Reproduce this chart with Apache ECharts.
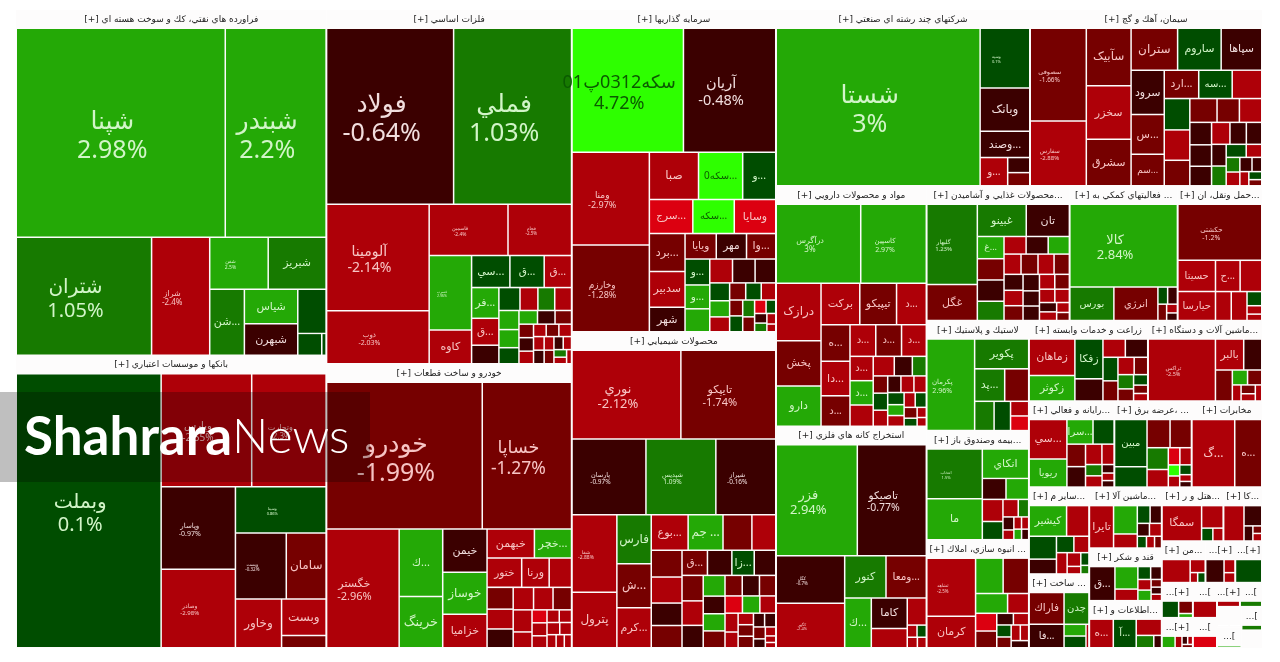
<!DOCTYPE html>
<html>
<head>
<meta charset="utf-8">
<style>html,body{margin:0;padding:0;background:#fff}#map{width:1280px;height:662px}</style>
<script src="https://cdn.jsdelivr.net/npm/echarts@6/dist/echarts.min.js"></script>
</head>
<body>
<div id="map"></div>
<script>
// Each stock row: symbol, daily change in percent, market weight.
const fuelStocks = [['شپنا',2.98,43056],['شبندر',2.2,20592],['شتران',1.05,15525],['شراز',-2.4,6555],['شفن',2.5,2830],['شبریز',1.5,2800],['شن...',1.4,2112],['شیاس',2.6,1683],['شبهرن',-0.7,1530],['',0.5,1118],['',0.5,440],['',0.5,60]];
const bankStocks = [['وبملت',0.1,39024],['وپارس',-2.55,9856],['وتجارت',-2.3,8064],['وپاسار',-0.97,5840],['وصادر',-2.98,5548],['وسینا',0.86,3960],['وپست',-0.32,3136],['سامان',-1.5,2432],['وخاور',-2.5,2070],['وبست',-2.4,1470],['',-1.6,460]];
const metalStocks = [['فولاد',-0.64,21576],['فملي',1.03,20010],['آلومینا',-2.14,10400],['ذوب',-2.03,5100],['فاسمین',-2.4,3750],['فجام',-2.5,3000],['فسرب',2.96,2911],['کاوه',-2.5,1271],['سي...',0.5,1080],['ق...',0.5,960],['فر...',2.5,720],['ق...',-2.5,754],['ق...',-2.5,624],['',-0.6,416],['',0.5,396],['',-2.5,330],['',-2.5,308],['',1.5,308],['',2.5,306],['',2.5,288],['',0.5,252],['',2.5,192],['',-0.6,180],['',-1.5,168],['',-0.7,143],['',-1.5,143],['',-2.5,132],['',-2.5,110],['',-1.5,110],['',-2.5,110],['',-0.6,99],['',-2.5,99],['',-1.5,90],['',-2.5,90],['',-0.6,80],['',-2.5,70],['',1.5,60],['',-2.5,50],['',-2.5,40]];
const autoStocks = [['خودرو',-1.99,22338],['خساپا',-1.27,12702],['خگستر',-2.96,8280],['ك...',2.5,2730],['خرینگ',2.5,2058],['خیمن',-0.7,1750],['خوساز',2.5,1700],['خزامیا',-2.5,1344],['خبهمن',-2.5,1232],['خچر...',2.5,952],['ختور',-2.5,896],['ورنا',-2.5,700],['',-2.5,560],['',-1.5,480],['',-2.2,432],['',-0.7,408],['',-2.5,378],['',-2.5,360],['',-2.5,340],['',-1.5,340],['',-2.5,234],['',-2.5,143],['',-3.5,143],['',-2.5,130],['',-2.5,110],['',-2.5,110],['',-2.5,110],['',-2.5,100],['',-2.5,80],['',-2.5,70],['',-2.5,60]];
const investStocks = [['سکه0312پ01',4.72,13516],['آریان',-0.48,11160],['ومنا',-2.97,6930],['وخارزم',-1.28,6468],['صبا',-2.5,2162],['سکه0...',4.2,1932],['و...',0.5,1426],['سرج...',-3.5,1353],['وسایا',-3.5,1287],['سکه...',4.2,1287],['برد...',-1.5,1225],['سدبیر',-2.5,1155],['شهر',-0.7,770],['ویایا',-1.5,696],['مهر',-0.8,672],['وا...',-1.5,648],['و...',0.5,552],['و...',2.5,504],['و...',2.5,483],['',-2.5,460],['',-0.7,456],['',-0.7,414],['',0.5,288],['',2.5,256],['',-2.3,234],['',-1,216],['',0.5,208],['',-2.3,192],['',0.5,156],['',-1,156],['',1.5,150],['',-1.5,130],['',-3.5,110],['',0.5,90],['',-0.7,80],['',1.5,70],['',-2.5,60],['',-2.5,40]];
const chemStocks = [['نوري',-2.12,9416],['تایپکو',-1.74,8184],['پارسان',-0.97,5400],['شپدیس',1.09,5100],['شیراز',-0.16,4350],['شفا',-2.88,3300],['پترول',-2.5,2332],['فارس',1.5,1551],['ش...',-1.5,1386],['کرم...',-2.5,1254],['بوع...',-2.5,1190],['جم ...',2.5,1122],['',-1.5,918],['',-2.5,748],['',-1.5,726],['',-2.5,704],['و...',-0.7,600],['م...',-1.5,594],['ق...',-1.5,552],['',-0.7,528],['زا...',0.5,480],['',-1.5,460],['',-0.7,460],['',-2.5,440],['',-0.7,399],['',2.5,378],['',-0.7,315],['',2.5,306],['',-1.5,300],['',-0.7,288],['',-1.5,288],['',-1.5,270],['',2.5,240],['',-3.5,240],['',-2.5,216],['',-2.5,192],['',-2.5,156],['',-1.5,130],['',-1.5,130],['',-2.5,130],['',-0.7,110],['',-0.7,110],['',-1.5,100],['',-0.7,70],['',-2.5,60],['',-2.5,40],['',-2.5,30]];
const holdingStocks = [['شستا',3,31620],['وسپه',0.1,2773],['وبانک',-0.6,1974],['وصند...',-0.7,1175],['و...',-2.5,676],['',-0.6,266],['',-1.5,228]];
const cementStocks = [['سصوفی',-1.66,5096],['سفارس',-2.88,3528],['سآبیک',-1.5,2464],['سخزر',-2.4,2288],['سشرق',-1.5,1980],['ستران',-1.5,1845],['ساروم',0.5,1722],['سپاها',-0.8,1599],['سرود',-0.8,1376],['س...',-1.5,1216],['سم...',-1.5,960],['ارد...',-1.5,891],['سه...',0.5,864],['',-2.5,756],['',0.5,720],['',-2.4,696],['',-1.5,576],['',-1.5,572],['',-2.3,462],['',-1.5,462],['',-0.6,420],['',-0.7,400],['',-0.7,360],['',-2.2,340],['',-0.6,300],['',-0.7,280],['',-0.8,260],['',1.5,234],['',0.5,209],['',-2.4,156],['',1.5,154],['',-2.4,143],['',-0.7,130],['',-0.7,100],['',-2.4,90],['',0.5,70],['',-1.5,50]];
const pharmaStocks = [['درآگرس',3,6474],['کاسپین',2.97,4992],['درازک',-2.5,2420],['پخش',-1.5,1892],['دارو',2.5,1672],['برکت',-2.5,1480],['تیپیکو',-1.5,1400],['د...',-2.5,1120],['ه...',-1.5,952],['دا...',-2.5,896],['د...',-1.5,784],['د...',-1.5,720],['د...',-2.5,720],['د...',-2.5,690],['د...',2.5,484],['د...',-2.5,484],['',-2.5,418],['',-2.5,342],['',-0.7,288],['',1.5,216],['',-1.5,195],['',0.5,192],['',-2.5,180],['',-0.7,168],['',-2.5,165],['',-2.5,156],['',0.5,150],['',2.5,132],['',-2.5,130],['',0.5,120],['',-2.5,120],['',-1.5,100],['',0.5,70],['',-2.5,60],['',-2.5,50]];
const miningStocks = [['فزر',2.94,8690],['تاصیکو',-0.77,7370],['کگل',-0.7,3060],['کگهر',-2.4,2856],['کنور',1.5,1599],['ومعا...',-1.5,1558],['ك...',2.5,1196],['کاما',-0.7,980],['',-2.5,595],['',-2.5,435],['',-2.5,80],['',0.5,75],['',-2.5,70],['',-2.2,60]];
const foodStocks = [['گلبهار',1.23,3978],['غگل',-1.5,1734],['غبینو',1.5,1488],['تان',-0.7,1302],['غ...',2.5,525],['',-0.7,500],['',-1.5,500],['',1.5,450],['',-0.7,330],['',-2.5,330],['',2.5,315],['',-1.5,288],['',-2.5,288],['',-2.5,270],['',-1.5,256],['',-0.7,250],['',-2.5,240],['',-1.5,230],['',-0.7,220],['',-0.7,200],['',-0.7,190],['',-2.5,180],['',-1.5,170],['',-2.5,160],['',-2.5,150],['',-0.7,120],['',-2.5,110],['',-2.5,90],['',-1.5,70]];
const supportStocks = [['کالا',2.84,8586],['انرژي',-1.5,1333],['بورس',1.5,1333],['',-0.7,120],['',0.5,120],['',-1.5,100],['',-2.5,60],['',-0.7,50]];
const transportStocks = [['حکشتی',-1.2,4455],['حسیتا',-2.5,1044],['حیارسا',-2.5,972],['ح...',-2.5,667],['',-2.5,580],['',-2.5,378],['',-2.5,378],['',0.5,156],['',-2.5,84],['',-2.5,60]];
const plasticStocks = [['پکرمان',2.96,4183],['پکویر',1.5,1479],['پد...',1.5,868],['',-1.5,682],['',1.5,486],['',0.5,405],['',-3.5,208],['',-2.5,208]];
const insuranceStocks = [['انتخاب',1.5,2592],['ما',2.5,2106],['انکاي',2.5,1232],['',-0.7,418],['',2.5,399],['',-2.5,380],['',0.5,306],['',-2.5,210],['',1.5,135],['',-0.7,100],['',-2.5,70],['',-2.5,60],['',-2.5,55],['',2.5,50],['',-0.7,45]];
const estateStocks = [['ثشاهد',-2.5,2640],['کرمان',-2.5,1392],['',2.5,858],['',-1.5,792],['',2.5,540],['',-2.5,342],['',-3.5,304],['',-1.5,285],['',-0.7,143],['',-2.5,130],['',0.5,125],['',-1.5,110],['',-2.5,100],['',-2.5,90],['',-0.7,85]];
const farmStocks = [['زماهان',-2.5,1530],['زکوثر',2.5,1040],['زفکا',0.5,1000],['',-0.7,532],['',-0.7,336],['',-2.5,336],['',0.5,286],['',-1.5,240],['',-2.5,221],['',-1.5,180],['',1.5,169],['',-1.5,140],['',0.5,105],['',-1.5,80],['',-2.5,70]];
const machineStocks = [['تراکس',-2.5,3876],['بالبر',-2.5,754],['',-0.7,464],['',-1.5,432],['',2.5,169],['',-1.5,156],['',-2.5,96],['',-1.5,84],['',-2.5,66],['',-2.5,66]];
const computerStocks = [['سي...',-2.5,1406],['ریویا',2.5,988],['سرا...',2.5,576],['',0.5,456],['',-1.5,360],['',-0.7,324],['',-2.5,280],['',-2.5,200],['',-2.5,144],['',1.5,144],['',-0.7,70],['',-2.5,60],['',-0.7,50]];
const powerStocks = [['مبین',0.5,1440],['',0.5,588],['',-1.5,576],['',-1.5,532],['',1.5,399],['',-2.5,315],['',-2.5,153],['',-3.5,153],['',-2.5,90],['',4.2,90],['',0.5,80],['',-2.5,50],['',-0.7,40]];
const telecomStocks = [['گ...',-2.5,2688],['ه...',-1.5,1664]];
const otherStocks = [['کیشیر',2.5,1008],['',-2.5,580],['ك...',0.5,525],['',-0.7,325],['',0.5,221],['',-2.5,187],['',-2.5,170],['',-2.5,136],['',0.5,66],['',-2.5,66],['',1.5,40]];
const buildStocks = [['فاراك',-1.5,990],['فا...',-0.7,720],['چدن',1.5,693],['',0.5,200],['',2.5,200],['',-2.5,40]];
const toolStocks = [['تایرا',-2.5,897],['',2.5,572],['',-2.5,264],['',0.5,170],['',-0.7,150],['',-2.5,110],['',-0.7,110],['',0.5,70],['',-2.5,60],['',-1.5,50]];
const sugarStocks = [['ق...',-0.7,775],['',2.5,441],['',-2.5,210],['',0.5,121],['',-2.5,100],['',-0.7,100],['',2.5,99],['',-1.5,50],['',-0.7,45],['',-2.5,40]];
const mediaStocks = [['ه...',-2.5,575],['آ...',0.5,550],['',-2.5,330],['',1.5,160],['',-0.7,60]];
const hotelStocks = [['سمگا',-2.5,1248],['',-2.5,399],['',0.5,100],['',-2.5,90]];
const paperStocks = [['',-2.5,640],['',-0.7,300],['',-0.7,96],['',-2.5,40],['',-1.5,40]];
const textileStocks = [['',-2.5,504],['',-2.5,132],['',0.5,40],['',-2.5,40]];
const leatherStocks = [['',-0.7,342],['',-2.5,99],['',-2.5,70]];
const woodStocks = [['',0.5,494]];
const glassStocks = [['',0.5,204],['',-1.5,120],['',2.5,30]];
const rubberStocks = [['',-2.5,280]];
const tileStocks = [['',-2.5,120]];
const oreStocks = [['',1.5,100]];
const printStocks = [['',2.5,130],['',-2.5,60],['',-0.7,30],['',-2.5,25],['',-1.5,20]];
const tradeStocks = [['',-3.5,220]];
const leasingStocks = [['',1.5,30]];
const retailStocks = [['',2.5,20]];
const fundsA = [[null,0,360]];
const fundsB = [[null,0,250],[null,0,250]];

// Sector headers, their weights and member lists, in the same order.
const sectorTitles = ['[+] فراورده هاي نفتي، كك و سوخت هسته اي','[+] بانكها و موسسات اعتباري','[+] فلزات اساسي','[+] خودرو و ساخت قطعات','[+] سرمايه گذاريها','[+] محصولات شيميايي','[+] شركتهاي چند رشته اي صنعتي','[+] سيمان، آهك و گچ','[+] مواد و محصولات دارويي','[+] استخراج كانه هاي فلزي','[+] محصولات غذايي و آشاميدن...','[+] فعاليتهاي كمكي به ...','[+] حمل ونقل، ان...','[+] لاستيك و پلاستيك','[+] بيمه وصندوق باز...','[+] انبوه سازي، املاك ...','[+] زراعت و خدمات وابسته','[+] ماشين آلات و دستگاه...','[+] رايانه و فعالي...','[+] عرضه برق، ...','[+] مخابرات','[+] سایر م...','[+] ساخت ...','[+] ماشين آلا...','[+] قند و شكر','[+] اطلاعات و...','[+] هتل و ر...','[+] كا...','[+] من...','...[+]','...[+]','...[+]','...[','...[+]','...[','...[+]','...[','...[','...[','',''];
const sectorWeights = [106605,90228,86376,69296,65366,64148,44450,40600,36000,33150,19162,14472,11300,11200,11100,11000,9520,9120,7310,6622,6020,5200,4420,4400,3800,3400,3300,2067,1804,1230,1107,1085,840,550,480,930,720,528,500,360,500];
const sectorMembers = [fuelStocks,bankStocks,metalStocks,autoStocks,investStocks,chemStocks,holdingStocks,cementStocks,pharmaStocks,miningStocks,foodStocks,supportStocks,transportStocks,plasticStocks,insuranceStocks,estateStocks,farmStocks,machineStocks,computerStocks,powerStocks,telecomStocks,otherStocks,buildStocks,toolStocks,sugarStocks,mediaStocks,hotelStocks,paperStocks,textileStocks,leatherStocks,woodStocks,glassStocks,rubberStocks,tileStocks,oreStocks,printStocks,tradeStocks,leasingStocks,retailStocks,fundsA,fundsB];

// Label type sizes: symbol plus change, or symbol only.
const pctLabelPx = {'شپنا':25,'شبندر':25,'فولاد':25,'فملي':25,'شستا':25,'خودرو':25,'شتران':20,'وبملت':20,'سکه0312پ01':18,'خساپا':17.5,'آریان':14.5,'آلومینا':14,'نوري':13,'کالا':13,'فزر':13,'خگستر':11,'تایپکو':11,'تاصیکو':10.5,'وپارس':10,'ومنا':9,'وخارزم':9,'شراز':8,'درآگرس':8,'وتجارت':8,'ذوب':7,'پکرمان':7,'حکشتی':7,'وپاسار':7,'کاسپین':7,'پارسان':6.5,'شپدیس':6.5,'شیراز':6.5,'سصوفی':6.5,'گلبهار':6,'سفارس':6,'وصادر':6,'فاسمین':5,'شفا':5,'تراکس':5.5,'فجام':4.5,'کگل':4.5,'کگهر':4,'وپست':4.5,'وسینا':4,'وسپه':4,'فسرب':3.5,'انتخاب':4,'ثشاهد':4.5,'شفن':5};
const nameLabelPx = {'شبریز':11,'شیاس':11,'شبهرن':11,'شن...':11,'سامان':12,'وخاور':12,'وبست':12,'سي...':11,'ق...':10.5,'فر...':11,'کاوه':11,'خیمن':11,'خوساز':12,'خرینگ':13,'خزامیا':11,'خبهمن':11,'خچر...':11,'ختور':10.5,'ورنا':11,'ك...':11,'صبا':12,'سکه0...':10,'و...':10.5,'سرج...':10.5,'وسایا':11,'سکه...':10,'برد...':11,'سدبیر':11,'شهر':11,'ویایا':10.5,'مهر':10.5,'وا...':11,'فارس':12,'ش...':12,'کرم...':11,'پترول':12,'بوع...':11,'جم ...':12,'م...':10,'زا...':11,'وبانک':12,'وصند...':11,'سآبیک':12,'سخزر':11,'سشرق':11,'ستران':12,'ساروم':11,'سپاها':11,'سرود':11,'س...':11,'سم...':9,'ارد...':11,'سه...':10,'درازک':12,'برکت':11,'تیپیکو':11,'د...':10,'پخش':11,'دارو':11,'ه...':10.5,'دا...':11,'کنور':11,'ومعا...':10.5,'کاما':11,'غبینو':11,'تان':11,'غ...':9,'غگل':11,'انرژي':10,'بورس':10,'حسیتا':10,'ح...':10,'حیارسا':10,'پکویر':11,'پد...':11,'انکاي':11,'ما':11,'کرمان':11,'زماهان':11,'زکوثر':10.5,'زفکا':10.5,'بالبر':10.5,'ریویا':10,'سرا...':10,'مبین':10,'گ...':12,'کیشیر':10.5,'فاراك':10.5,'فا...':10,'چدن':10,'تایرا':11,'آ...':10,'سمگا':11};

// Discrete colour bands for the daily change.
function fillFor(pct) {
  if (pct >= 4) return '#2eff00';
  if (pct >= 2) return '#24a906';
  if (pct >= 1) return '#177a00';
  if (pct >= 0) return '#004d00';
  if (pct > -1) return '#3b0000';
  if (pct > -2) return '#760000';
  if (pct > -3) return '#ae0008';
  return '#dc0010';
}
function inkFor(pct) {
  if (pct >= 4) return '#0b5a00';
  if (pct >= 0) return '#d2f5c8';
  if (pct > -1) return '#f2dede';
  return '#f7c4c4';
}

// Tile outlines take part of each weight's cell, so the cell is grown by a gutter.
const gutter = 2;
function cellWeight(weight) {
  return weight + 2 * gutter * Math.sqrt(weight) + gutter * gutter;
}

function toTile(row) {
  const name = row[0], change = row[1], weight = row[2];
  const colour = name === null ? '#ffffff' : fillFor(change);
  const withPct = pctLabelPx[name];
  const px = withPct || nameLabelPx[name];
  const node = { name: name || '', value: cellWeight(weight), itemStyle: { color: colour }, label: { show: false } };
  if (px) {
    node.label = {
      show: true, position: 'inside', align: 'center', verticalAlign: 'middle',
      overflow: 'none', fontSize: px, lineHeight: px * 1.16, color: inkFor(change),
      offset: withPct ? [-8.5, 1 + px * 0.1] : [0, 0],
      fontFamily: '"Noto Sans","DejaVu Sans",sans-serif',
      formatter: withPct ? name + '\n' + change + '%' : name
    };
  }
  return node;
}

const sectors = sectorTitles.map((title, i) => ({
  name: title,
  value: sectorWeights[i],
  children: sectorMembers[i].map(toTile)
}));

const chart = echarts.init(document.getElementById('map'), null, { renderer: 'canvas' });
chart.setOption({
  animation: false,
  backgroundColor: '#ffffff',
  series: [{
    type: 'treemap',
    left: 16, top: 10, width: 1246, height: 638,
    roam: false, nodeClick: false, silent: true,
    squareRatio: 1,
    breadcrumb: { show: false },
    visibleMin: 0,
    label: { show: false },
    upperLabel: { show: false },
    itemStyle: { borderWidth: 0, gapWidth: 0 },
    levels: [
      { itemStyle: { borderWidth: 0, gapWidth: 0, borderColor: '#ffffff' }, upperLabel: { show: false } },
      {
        itemStyle: { borderWidth: 1, gapWidth: 1.5, borderColor: '#fdfcfc' },
        upperLabel: {
          show: true, height: 19, position: 'inside', color: '#222222', fontSize: 9, overflow: 'none',
          align: 'center', verticalAlign: 'middle',
          fontFamily: '"DejaVu Sans",sans-serif'
        }
      },
      { itemStyle: { borderWidth: 0, gapWidth: 0 } }
    ],
    data: sectors
  }],
  graphic: [
    { type: 'rect', z: 100, shape: { x: 0, y: 392, width: 370, height: 90 }, style: { fill: 'rgba(0,0,0,0.25)' } },
    { type: 'text', z: 101, style: { x: 24, y: 438, text: 'Shahrara', fill: '#ffffff', font: '700 53px Lato, sans-serif', textVerticalAlign: 'middle' } },
    { type: 'text', z: 101, style: { x: 232, y: 438, text: 'News', fill: '#ffffff', font: '300 48px Lato, sans-serif', textVerticalAlign: 'middle' } }
  ]
});
</script>
</body>
</html>
